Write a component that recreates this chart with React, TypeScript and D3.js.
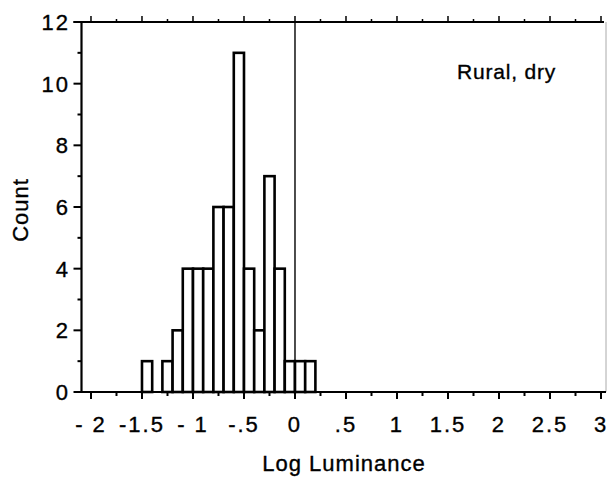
import React from "react";
import * as d3 from "d3";

const binStarts = [-1.5, -1.4, -1.3, -1.2, -1.1, -1.0, -0.9, -0.8, -0.7, -0.6, -0.5, -0.4, -0.3, -0.2, -0.1, 0.0, 0.1];
const counts = [1, 0, 1, 2, 4, 4, 4, 6, 6, 11, 4, 2, 7, 4, 1, 1, 1];
const binWidth = 0.1;
const xTickValues = [-2, -1.5, -1, -0.5, 0, 0.5, 1, 1.5, 2, 2.5, 3];
const xTickLabels = ["- 2", "-1.5", "- 1", "-.5", "0", ".5", "1", "1.5", "2", "2.5", "3"];
const xMinorTicks = [-1.75, -1.25, -0.75, -0.25, 0.25, 0.75, 1.25, 1.75, 2.25, 2.75];
const yTickValues = [0, 2, 4, 6, 8, 10, 12];
const yMinorTicks = [1, 3, 5, 7, 9, 11];
const annotation = "Rural, dry";
const xTitle = "Log Luminance";
const yTitle = "Count";

export default function App() {
  const W = 608, H = 483;
  const left = 81.5, right = 606, top = 22, bottom = 392;
  const x = d3.scaleLinear().domain([-2.093, 3.049]).range([left, right]);
  const y = d3.scaleLinear().domain([0, 12]).range([bottom, top]);
  const font = "'Liberation Sans', Arial, Helvetica, sans-serif";
  const ts = { stroke: "#000", strokeWidth: 0.35 };
  return (
    <svg width={W} height={H} style={{ position: "absolute", left: 0, top: 0, background: "#fff" }} fontFamily={font}>
      <rect x={0} y={0} width={W} height={H} fill="#fff" />
      {binStarts.map((b, i) =>
        counts[i] > 0 ? (
          <rect key={i} x={x(b)} y={y(counts[i])} width={x(b + binWidth) - x(b)} height={y(0) - y(counts[i])}
            fill="#fff" stroke="#000" strokeWidth={2.6} />
        ) : null
      )}
      <line x1={x(0)} x2={x(0)} y1={top} y2={bottom} stroke="#000" strokeWidth={1.4} />
      <line x1={right} x2={right} y1={top} y2={bottom} stroke="#aaa" strokeWidth={1} />
      <line x1={left} x2={left} y1={top - 1} y2={bottom + 1} stroke="#000" strokeWidth={2.2} />
      <line x1={left - 8} x2={right - 2} y1={top} y2={top} stroke="#000" strokeWidth={2.2} />
      <line x1={left} x2={right} y1={bottom} y2={bottom} stroke="#000" strokeWidth={2.2} />
      {yTickValues.map((v) => (
        <g key={"y" + v}>
          <line x1={left - 8} x2={left} y1={y(v)} y2={y(v)} stroke="#000" strokeWidth={2} />
          <text x={70} y={y(v)} dy="0.36em" textAnchor="end" fontSize={22} letterSpacing={2} {...ts}>{v}</text>
        </g>
      ))}
      {yMinorTicks.map((v) => (
        <line key={"ym" + v} x1={left - 4} x2={left} y1={y(v)} y2={y(v)} stroke="#000" strokeWidth={2} />
      ))}
      {xTickValues.map((v, i) => (
        <g key={"x" + v}>
          <line x1={x(v)} x2={x(v)} y1={bottom} y2={bottom + 7} stroke="#000" strokeWidth={2} />
          <line x1={x(v)} x2={x(v)} y1={top} y2={top - 6} stroke="#000" strokeWidth={1.5} />
          <text x={x(v)} y={432} textAnchor="middle" fontSize={22} letterSpacing={2} {...ts}>{xTickLabels[i]}</text>
        </g>
      ))}
      {xMinorTicks.map((v) => (
        <g key={"xm" + v}>
          <line x1={x(v)} x2={x(v)} y1={bottom} y2={bottom + 4} stroke="#000" strokeWidth={2} />
          <line x1={x(v)} x2={x(v)} y1={top} y2={top - 3} stroke="#000" strokeWidth={1.5} />
        </g>
      ))}
      <text x={344} y={471} textAnchor="middle" fontSize={22} letterSpacing={1} {...ts}>{xTitle}</text>
      <text transform={`translate(28, 210) rotate(-90)`} textAnchor="middle" fontSize={22} letterSpacing={1} {...ts}>{yTitle}</text>
      <text x={457} y={79} fontSize={21} letterSpacing={0.8} {...ts}>{annotation}</text>
    </svg>
  );
}
